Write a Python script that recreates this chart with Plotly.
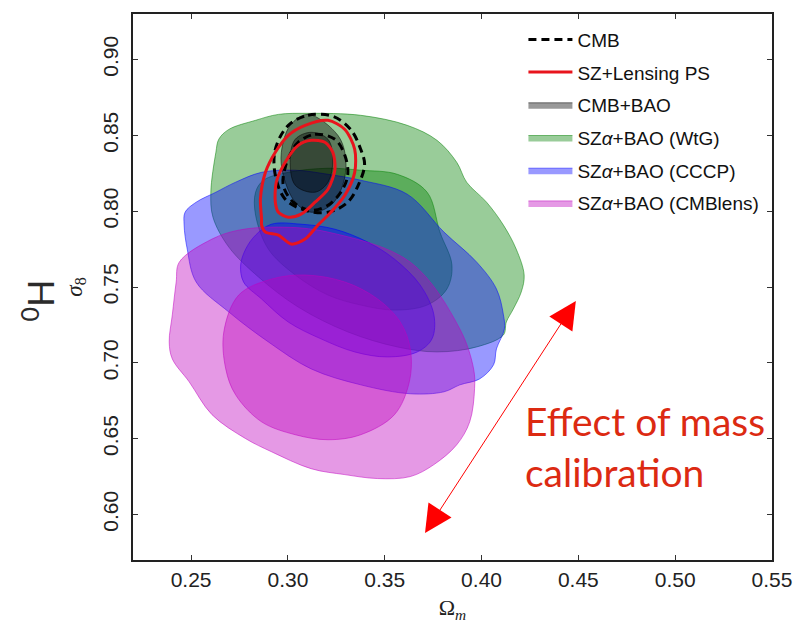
import plotly.graph_objects as go

# ---------------- data (Omega_m, sigma_8) ----------------
# SZalpha+BAO (WtG): 95% and 68% regions
wtg95_om = [0.2602, 0.2628, 0.2643, 0.2695, 0.2833, 0.2951, 0.3104, 0.3376, 0.3616, 0.3770, 0.3872, 0.3923,
            0.4026, 0.4113, 0.4179, 0.4220, 0.4205, 0.4164, 0.4128, 0.4113, 0.3975, 0.3770, 0.3565, 0.3309,
            0.3053, 0.2848, 0.2695, 0.2613]
wtg95_s8 = [0.8125, 0.8388, 0.8474, 0.8539, 0.8599, 0.8638, 0.8645, 0.8632, 0.8566, 0.8467, 0.8322, 0.8191,
            0.8059, 0.7908, 0.7750, 0.7579, 0.7467, 0.7355, 0.7269, 0.7184, 0.7105, 0.7072, 0.7105, 0.7204,
            0.7368, 0.7566, 0.7763, 0.7960]
wtg68_om = [0.2833, 0.2874, 0.3002, 0.3207, 0.3376, 0.3565, 0.3719, 0.3785, 0.3847, 0.3821, 0.3719, 0.3550,
            0.3376, 0.3207, 0.3038, 0.2899, 0.2833]
wtg68_s8 = [0.8125, 0.8204, 0.8256, 0.8283, 0.8270, 0.8243, 0.8125, 0.7862, 0.7645, 0.7487, 0.7381, 0.7348,
            0.7381, 0.7447, 0.7579, 0.7750, 0.7974]

# SZalpha+BAO (CCCP)
cccp95_om = [0.2464, 0.2469, 0.2526, 0.2628, 0.2730, 0.2864, 0.3038, 0.3207, 0.3376, 0.3616, 0.3806, 0.3975,
             0.4077, 0.4113, 0.4118, 0.4077, 0.4062, 0.3990, 0.3888, 0.3806, 0.3632, 0.3376, 0.3120, 0.2899,
             0.2695, 0.2526, 0.2480]
cccp95_s8 = [0.7908, 0.7993, 0.8059, 0.8125, 0.8191, 0.8256, 0.8270, 0.8243, 0.8204, 0.8112, 0.7862, 0.7664,
             0.7487, 0.7316, 0.7223, 0.7092, 0.6987, 0.6894, 0.6855, 0.6809, 0.6796, 0.6855, 0.6960, 0.7138,
             0.7335, 0.7533, 0.7750]
cccp68_om = [0.2756, 0.2782, 0.2833, 0.2915, 0.3068, 0.3243, 0.3412, 0.3550, 0.3683, 0.3754, 0.3744, 0.3668,
             0.3514, 0.3345, 0.3171, 0.3002, 0.2864, 0.2771]
cccp68_s8 = [0.7645, 0.7750, 0.7842, 0.7914, 0.7914, 0.7881, 0.7796, 0.7684, 0.7513, 0.7316, 0.7158, 0.7072,
             0.7039, 0.7072, 0.7158, 0.7269, 0.7421, 0.7533]

# SZalpha+BAO (CMBlens)
cmbl95_om = [0.2439, 0.2608, 0.2746, 0.2951, 0.3207, 0.3632, 0.3888, 0.3959, 0.3964, 0.3939, 0.3872, 0.3754,
             0.3632, 0.3463, 0.3294, 0.3120, 0.2915, 0.2782, 0.2608, 0.2490, 0.2403, 0.2387, 0.2403, 0.2423]
cmbl95_s8 = [0.7664, 0.7816, 0.7875, 0.7895, 0.7862, 0.7664, 0.7223, 0.6960, 0.6829, 0.6611, 0.6460, 0.6329,
             0.6250, 0.6237, 0.6263, 0.6302, 0.6414, 0.6500, 0.6658, 0.6875, 0.7026, 0.7138, 0.7316, 0.7533]
cmbl68_om = [0.2669, 0.2746, 0.2915, 0.3089, 0.3294, 0.3463, 0.3580, 0.3632, 0.3627, 0.3550, 0.3376, 0.3207,
             0.3038, 0.2864, 0.2730, 0.2679]
cmbl68_s8 = [0.7204, 0.7447, 0.7552, 0.7579, 0.7533, 0.7421, 0.7269, 0.7092, 0.6875, 0.6658, 0.6526, 0.6493,
             0.6526, 0.6611, 0.6789, 0.6960]

# CMB+BAO
cmbbao95_om = [0.3104, 0.3258, 0.3299, 0.3283, 0.3222, 0.3120, 0.3038, 0.2976, 0.2966, 0.3012]
cmbbao95_s8 = [0.8638, 0.8500, 0.8342, 0.8171, 0.8039, 0.7993, 0.8059, 0.8237, 0.8388, 0.8566]
cmbbao68_om = [0.3120, 0.3207, 0.3232, 0.3207, 0.3140, 0.3038, 0.3012, 0.3038]
cmbbao68_s8 = [0.8520, 0.8474, 0.8342, 0.8191, 0.8125, 0.8171, 0.8342, 0.8474]

# CMB (dashed contours)
cmb95_om = [0.3002, 0.3104, 0.3232, 0.3324, 0.3376, 0.3396, 0.3370, 0.3309, 0.3207, 0.3089, 0.2986, 0.2935, 0.2935]
cmb95_s8 = [0.8566, 0.8632, 0.8625, 0.8539, 0.8408, 0.8309, 0.8191, 0.8059, 0.7993, 0.8006, 0.8079, 0.8237, 0.8408]
cmb68_om = [0.3053, 0.3140, 0.3243, 0.3294, 0.3309, 0.3273, 0.3207, 0.3120, 0.3028, 0.2976, 0.2986, 0.3012]
cmb68_s8 = [0.8454, 0.8507, 0.8474, 0.8368, 0.8237, 0.8125, 0.8039, 0.8006, 0.8059, 0.8171, 0.8289, 0.8375]

# SZ+Lensing PS (red contours)
szl95_om = [0.2864, 0.2858, 0.2884, 0.2935, 0.3002, 0.3089, 0.3207, 0.3294, 0.3345, 0.3345, 0.3294, 0.3222,
            0.3155, 0.3089, 0.3017, 0.2951, 0.2884, 0.2864]
szl95_s8 = [0.7947, 0.8079, 0.8256, 0.8388, 0.8500, 0.8566, 0.8599, 0.8539, 0.8408, 0.8256, 0.8105, 0.7993,
            0.7908, 0.7816, 0.7783, 0.7842, 0.7862, 0.7908]
szl68_om = [0.2935, 0.2940, 0.2986, 0.3053, 0.3120, 0.3191, 0.3232, 0.3243, 0.3207, 0.3140, 0.3068, 0.3002, 0.2951]
szl68_s8 = [0.8059, 0.8191, 0.8322, 0.8434, 0.8467, 0.8454, 0.8388, 0.8276, 0.8145, 0.8059, 0.7980, 0.7960, 0.7993]

# arrow "Effect of mass calibration" (upper tip, lower tip)
arrow_om = [0.4487, 0.3703]
arrow_s8 = [0.7408, 0.5868]

x_ticks = [0.25, 0.30, 0.35, 0.40, 0.45, 0.50, 0.55]
y_ticks = [0.60, 0.65, 0.70, 0.75, 0.80, 0.85, 0.90]

fig = go.Figure()


def closed(a):
    return list(a) + [a[0]]


def region(om, s8, rgb, alpha, lalpha, name, group, show, rank):
    fig.add_trace(go.Scatter(
        x=closed(om), y=closed(s8), mode="lines", fill="toself",
        fillcolor=f"rgba({rgb},{alpha})",
        line=dict(color=f"rgba({rgb},{lalpha})", width=1, shape="spline", smoothing=1.0),
        name=name, legendgroup=group, showlegend=show, legendrank=rank, hoverinfo="skip"))


GREEN, BLUE, MAG, GREY = "0,128,0", "0,0,255", "191,0,191", "0,0,0"

region(wtg95_om, wtg95_s8, GREEN, 0.4, 0.5, "SZ<i>α</i>+BAO (WtG)", "wtg", True, 4)
region(wtg68_om, wtg68_s8, GREEN, 0.4, 0.5, "wtg68", "wtg", False, 4)
region(cccp95_om, cccp95_s8, BLUE, 0.4, 0.5, "SZ<i>α</i>+BAO (CCCP)", "cccp", True, 5)
region(cccp68_om, cccp68_s8, BLUE, 0.4, 0.6, "cccp68", "cccp", False, 5)
region(cmbl95_om, cmbl95_s8, MAG, 0.4, 0.5, "SZ<i>α</i>+BAO (CMBlens)", "cmbl", True, 6)
region(cmbl68_om, cmbl68_s8, MAG, 0.4, 0.5, "cmbl68", "cmbl", False, 6)
region(cmbbao95_om, cmbbao95_s8, GREY, 0.4, 0.5, "CMB+BAO", "cmbbao", True, 3)
region(cmbbao68_om, cmbbao68_s8, GREY, 0.4, 0.5, "cmbbao68", "cmbbao", False, 3)

for om, s8, show in [(cmb95_om, cmb95_s8, True), (cmb68_om, cmb68_s8, False)]:
    fig.add_trace(go.Scatter(
        x=closed(om), y=closed(s8), mode="lines",
        line=dict(color="black", width=3, dash="8px,5px", shape="spline", smoothing=1.0),
        name="CMB", legendgroup="cmb", showlegend=show, legendrank=1, hoverinfo="skip"))

for om, s8, show in [(szl95_om, szl95_s8, True), (szl68_om, szl68_s8, False)]:
    fig.add_trace(go.Scatter(
        x=closed(om), y=closed(s8), mode="lines",
        line=dict(color="#e8141c", width=3, shape="spline", smoothing=0.8),
        name="SZ+Lensing PS", legendgroup="szl", showlegend=show, legendrank=2, hoverinfo="skip"))

fig.add_annotation(x=arrow_om[0], y=arrow_s8[0], ax=arrow_om[1], ay=arrow_s8[1],
                   xref="x", yref="y", axref="x", ayref="y", text="",
                   showarrow=True, arrowhead=2, startarrowhead=2, arrowside="end+start",
                   arrowsize=5.5, startarrowsize=5.5, arrowwidth=1, arrowcolor="#ff0000")

fig.add_annotation(x=0.4215, y=0.6447, xref="x", yref="y", xanchor="left", yanchor="middle",
                   text="Effect of mass<br>calibration", showarrow=False, align="left",
                   font=dict(family="Lato", size=39, color="#dc2a12"))

fig.add_annotation(x=-0.188, y=0.4745, xref="paper", yref="paper",
                   text="H<sub>0</sub>", showarrow=False, textangle=90,
                   font=dict(family="Lato", size=36, color="#2b2b2b"))

axis_common = dict(showline=True, mirror="ticks", linecolor="#222222", linewidth=1.8,
                   ticks="inside", ticklen=5, tickwidth=1.3, tickcolor="#333333",
                   showgrid=False, zeroline=False,
                   tickfont=dict(family="Liberation Sans", size=21, color="#222222"))

fig.update_xaxes(range=[0.22, 0.55], tickvals=x_ticks, ticktext=[f"{v:.2f}" for v in x_ticks],
                 title=dict(text="Ω<sub><i>m</i></sub>", standoff=10,
                            font=dict(family="Liberation Serif", size=22, color="#222222")),
                 **axis_common)
fig.update_yaxes(range=[0.57, 0.93], tickvals=y_ticks, ticktext=[f"{v:.2f}" for v in y_ticks],
                 tickangle=-90, ticklabelstandoff=5,
                 title=dict(text="<i>σ</i><sub>8</sub>", standoff=10,
                            font=dict(family="Liberation Serif", size=23, color="#222222")),
                 **axis_common)

fig.update_layout(
    width=804, height=632,
    margin=dict(l=133, r=26, t=12, b=72),
    paper_bgcolor="white", plot_bgcolor="white",
    showlegend=True,
    legend=dict(x=0.611, y=0.988, xanchor="left", yanchor="top",
                bgcolor="rgba(0,0,0,0)", itemwidth=44, tracegroupgap=5,
                traceorder="grouped",
                font=dict(family="Liberation Sans", size=19, color="#111111")),
)

fig.write_html("out.html")
